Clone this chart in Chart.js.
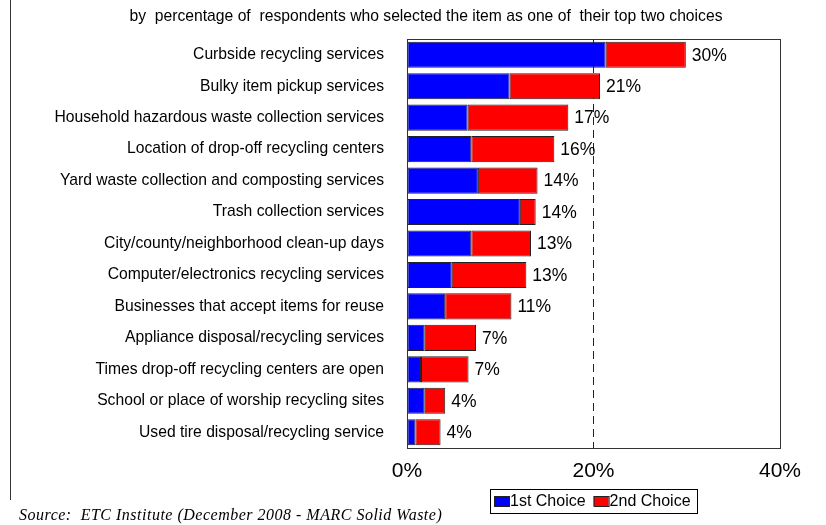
<!DOCTYPE html>
<html>
<head>
<meta charset="utf-8">
<style>
  html, body { margin: 0; padding: 0; background: #fff; }
  #wrap { width: 826px; height: 525px; position: relative; }
</style>
<script src="https://cdn.jsdelivr.net/npm/chart.js@4.4.1/dist/chart.umd.min.js"></script>
</head>
<body>
<div id="wrap"><canvas id="chart" width="826" height="525"></canvas></div>
<script>
// categories, top to bottom
const categories = [
  "Curbside recycling services",
  "Bulky item pickup services",
  "Household hazardous waste collection services",
  "Location of drop-off recycling centers",
  "Yard waste collection and composting services",
  "Trash collection services",
  "City/county/neighborhood clean-up days",
  "Computer/electronics recycling services",
  "Businesses that accept items for reuse",
  "Appliance disposal/recycling services",
  "Times drop-off recycling centers are open",
  "School or place of worship recycling sites",
  "Used tire disposal/recycling service"
];

// % of respondents
const firstChoice = [21.3, 11.0, 6.5, 6.9, 7.6, 12.1, 6.9, 4.8, 4.1, 1.9, 1.5, 1.9, 0.9];
const secondChoice = [8.6, 9.7, 10.8, 8.9, 6.4, 1.7, 6.4, 8.0, 7.1, 5.5, 5.1, 2.2, 2.7];
const totalLabels = ["30%", "21%", "17%", "16%", "14%", "14%", "13%", "13%", "11%", "7%", "7%", "4%", "4%"];

const seriesNames = ["1st Choice", "2nd Choice"];
const seriesColors = ["#0000ff", "#ff0000"];

const xMax = 40;
const xStep = 20;

const subtitle = "by  percentage of  respondents who selected the item as one of  their top two choices";
const source = "Source:  ETC Institute (December 2008 - MARC Solid Waste)";

// 🏷️ totals at the bar ends
const totalsPlugin = {
  id: "totals",
  afterDatasetsDraw(chart) {
    const ctx = chart.ctx;
    const meta = chart.getDatasetMeta(chart.data.datasets.length - 1);
    ctx.save();
    ctx.font = "17.5px 'Liberation Sans', Arial, sans-serif";
    ctx.fillStyle = "#000";
    ctx.textBaseline = "middle";
    meta.data.forEach((bar, i) => {
      ctx.fillText(totalLabels[i], bar.x + 6, bar.y + 1);
    });
    ctx.restore();
  }
};

// 🖼️ frame, subtitle, legend box, source
const decorPlugin = {
  id: "decor",
  afterDraw(chart) {
    const ctx = chart.ctx;
    const a = chart.chartArea;
    ctx.save();

    // plot border
    ctx.strokeStyle = "#333";
    ctx.lineWidth = 1;
    ctx.strokeRect(a.left + 0.5, a.top + 0.5, a.right - a.left, a.bottom - a.top);

    // outer frame (left edge only is in view)
    ctx.beginPath();
    ctx.moveTo(10.5, 0);
    ctx.lineTo(10.5, 500);
    ctx.stroke();

    // subtitle
    ctx.fillStyle = "#000";
    ctx.font = "15.7px 'Liberation Sans', Arial, sans-serif";
    ctx.textAlign = "center";
    ctx.textBaseline = "middle";
    ctx.fillText(subtitle, 426, 17);

    // legend
    ctx.textAlign = "left";
    ctx.strokeStyle = "#000";
    ctx.strokeRect(490.5, 489.5, 207, 24);
    ctx.font = "16px 'Liberation Sans', Arial, sans-serif";
    let x = 494;
    seriesNames.forEach((name, i) => {
      ctx.fillStyle = seriesColors[i];
      ctx.fillRect(x, 496, 15, 10);
      ctx.strokeStyle = "#222";
      ctx.strokeRect(x + 0.5, 496.5, 15, 10);
      ctx.fillStyle = "#000";
      ctx.fillText(name, x + 16, 502);
      x += 16 + ctx.measureText(name).width + 8;
    });

    // source
    ctx.font = "italic 16px 'Liberation Serif', 'Times New Roman', serif";
    ctx.letterSpacing = "0.5px";
    ctx.fillText(source, 19, 516);

    ctx.restore();
  }
};

new Chart(document.getElementById("chart"), {
  type: "bar",
  data: {
    labels: categories,
    datasets: seriesNames.map((name, i) => ({
      label: name,
      data: i === 0 ? firstChoice : secondChoice,
      backgroundColor: seriesColors[i],
      borderColor: "#222",
      borderWidth: 1,
      borderSkipped: false,
      categoryPercentage: 1,
      barPercentage: 0.83
    }))
  },
  options: {
    indexAxis: "y",
    responsive: false,
    animation: false,
    layout: { padding: { top: 39, right: 46, bottom: 37, left: 0 } },
    plugins: {
      legend: { display: false },
      tooltip: { enabled: false }
    },
    scales: {
      x: {
        stacked: true,
        min: 0,
        max: xMax,
        ticks: {
          stepSize: xStep,
          color: "#000",
          padding: 11,
          font: { size: 21, family: "'Liberation Sans', Arial, sans-serif" },
          callback: v => v + "%"
        },
        grid: {
          drawTicks: false,
          lineWidth: 1,
          color: c => (c.tick && c.tick.value === 20 ? "#222" : "rgba(0,0,0,0)")
        },
        border: { display: false, dash: [8, 5] },
        afterFit: s => { s.height = 40; }
      },
      y: {
        stacked: true,
        ticks: {
          color: "#000",
          padding: 15,
          font: { size: 15.7, family: "'Liberation Sans', Arial, sans-serif" }
        },
        grid: { display: false },
        border: { display: false },
        afterFit: s => { s.width = 407; }
      }
    }
  },
  plugins: [totalsPlugin, decorPlugin]
});
</script>
</body>
</html>
